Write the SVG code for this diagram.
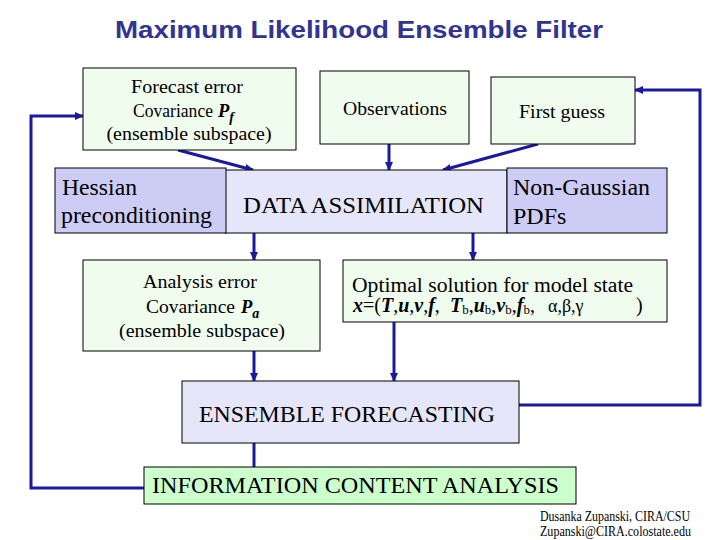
<svg xmlns="http://www.w3.org/2000/svg" width="720" height="540" viewBox="0 0 720 540">
<style>
.t{font-family:"Liberation Serif","Times New Roman",serif;fill:#000}
.c{stroke:#1a1a9e;stroke-width:3;fill:none}
.g{fill:#f0fcee;stroke:#000;stroke-width:1}
.l{fill:#e6e6fa;stroke:#000;stroke-width:1}
.d{fill:#ccccf5;stroke:#000;stroke-width:1}
.bi{font-weight:bold;font-style:italic}
</style>
<defs>
<marker id="ah" markerUnits="userSpaceOnUse" markerWidth="9" markerHeight="8" refX="8" refY="4" orient="auto">
<path d="M0,0 L9,4 L0,8 z" fill="#1a1a9e"/>
</marker>
</defs>
<rect width="720" height="540" fill="#fff"/>
<text x="359" y="38" text-anchor="middle" font-family="Liberation Sans, Arial, sans-serif" font-weight="bold" font-size="24" fill="#333390" textLength="488" lengthAdjust="spacingAndGlyphs">Maximum Likelihood Ensemble Filter</text>

<g id="connectors">
<line class="c" x1="178" y1="150" x2="253" y2="170" marker-end="url(#ah)"/>
<line class="c" x1="389" y1="144" x2="389" y2="170" marker-end="url(#ah)"/>
<line class="c" x1="538" y1="144" x2="443" y2="170" marker-end="url(#ah)"/>
<line class="c" x1="254" y1="233" x2="254" y2="260" marker-end="url(#ah)"/>
<line class="c" x1="473" y1="233" x2="473" y2="260" marker-end="url(#ah)"/>
<line class="c" x1="394" y1="322" x2="394" y2="381" marker-end="url(#ah)"/>
<line class="c" x1="254" y1="351" x2="254" y2="381" marker-end="url(#ah)"/>
<line class="c" x1="254" y1="443" x2="254" y2="467"/>
<polyline class="c" points="519,405 700,405 700,90 635,90" marker-end="url(#ah)"/>
<polyline class="c" points="144,488 31,488 31,116 83,116" marker-end="url(#ah)"/>
</g>

<g id="forecast">
<rect class="g" x="83" y="68" width="213" height="82"/>
<text class="t" x="131" y="93" font-size="18.5" textLength="112" lengthAdjust="spacingAndGlyphs">Forecast error</text>
<text class="t" y="117" font-size="18.5"><tspan x="133" textLength="80" lengthAdjust="spacingAndGlyphs">Covariance</tspan><tspan x="218" class="bi">P</tspan><tspan class="bi" font-size="14" dy="5">f</tspan></text>
<text class="t" x="189" y="140" text-anchor="middle" font-size="18.5" textLength="165" lengthAdjust="spacingAndGlyphs">(ensemble subspace)</text>
</g>

<g id="observations">
<rect class="g" x="320" y="71" width="149" height="73"/>
<text class="t" x="395" y="115" text-anchor="middle" font-size="18.5" textLength="104" lengthAdjust="spacingAndGlyphs">Observations</text>
</g>

<g id="firstguess">
<rect class="g" x="491" y="77" width="144" height="67"/>
<text class="t" x="519" y="118" font-size="18.5" textLength="86" lengthAdjust="spacingAndGlyphs">First guess</text>
</g>

<g id="dataassim">
<rect class="l" x="225" y="170" width="282" height="63"/>
<text class="t" x="243" y="213" font-size="24" textLength="241" lengthAdjust="spacingAndGlyphs">DATA ASSIMILATION</text>
</g>

<g id="hessian">
<rect class="d" x="55" y="168" width="171" height="65"/>
<text class="t" x="62" y="195" font-size="24" textLength="75" lengthAdjust="spacingAndGlyphs">Hessian</text>
<text class="t" x="61" y="223" font-size="24" textLength="151" lengthAdjust="spacingAndGlyphs">preconditioning</text>
</g>

<g id="nongaussian">
<rect class="d" x="507" y="168" width="160" height="65"/>
<text class="t" x="513" y="195" font-size="24" textLength="137" lengthAdjust="spacingAndGlyphs">Non-Gaussian</text>
<text class="t" x="513" y="224" font-size="24">PDFs</text>
</g>

<g id="analysis">
<rect class="g" x="83" y="260" width="237" height="91"/>
<text class="t" x="143" y="288" font-size="18.5" textLength="114" lengthAdjust="spacingAndGlyphs">Analysis error</text>
<text class="t" y="313" font-size="18.5"><tspan x="146" textLength="89" lengthAdjust="spacingAndGlyphs">Covariance</tspan><tspan x="241" class="bi">P</tspan><tspan class="bi" font-size="14" dy="5">a</tspan></text>
<text class="t" x="202" y="337" text-anchor="middle" font-size="18.5" textLength="166" lengthAdjust="spacingAndGlyphs">(ensemble subspace)</text>
</g>

<g id="optimal">
<rect class="g" x="343" y="260" width="324" height="62"/>
<text class="t" x="352" y="292" font-size="20" textLength="281" lengthAdjust="spacingAndGlyphs">Optimal solution for model state</text>
<text class="t" y="312" font-size="20"><tspan x="353" class="bi">x</tspan><tspan>=(</tspan><tspan class="bi">T</tspan><tspan>,</tspan><tspan class="bi">u</tspan><tspan>,</tspan><tspan class="bi">v</tspan><tspan>,</tspan><tspan class="bi">f</tspan><tspan>,</tspan><tspan x="450" class="bi">T</tspan><tspan font-size="13" dy="2">b</tspan><tspan dy="-2">,</tspan><tspan class="bi">u</tspan><tspan font-size="13" dy="2">b</tspan><tspan dy="-2">,</tspan><tspan class="bi">v</tspan><tspan font-size="13" dy="2">b</tspan><tspan dy="-2">,</tspan><tspan class="bi">f</tspan><tspan font-size="13" dy="2">b</tspan><tspan dy="-2">,</tspan><tspan x="548" font-size="18">α,β,γ</tspan><tspan x="636">)</tspan></text>
</g>

<g id="ensemble">
<rect class="l" x="182" y="381" width="337" height="62"/>
<text class="t" x="199" y="422" font-size="24" textLength="296" lengthAdjust="spacingAndGlyphs">ENSEMBLE FORECASTING</text>
</g>

<g id="information">
<rect x="144" y="467" width="432" height="37" fill="#ccffcc" stroke="#000" stroke-width="1"/>
<text class="t" x="152" y="493" font-size="24" textLength="407" lengthAdjust="spacingAndGlyphs">INFORMATION CONTENT ANALYSIS</text>
</g>

<g id="credits">
<text class="t" x="540" y="521" font-size="14" textLength="150" lengthAdjust="spacingAndGlyphs">Dusanka Zupanski,  CIRA/CSU</text>
<text class="t" x="540" y="536" font-size="14" textLength="151" lengthAdjust="spacingAndGlyphs">Zupanski@CIRA.colostate.edu</text>
</g>
</svg>
